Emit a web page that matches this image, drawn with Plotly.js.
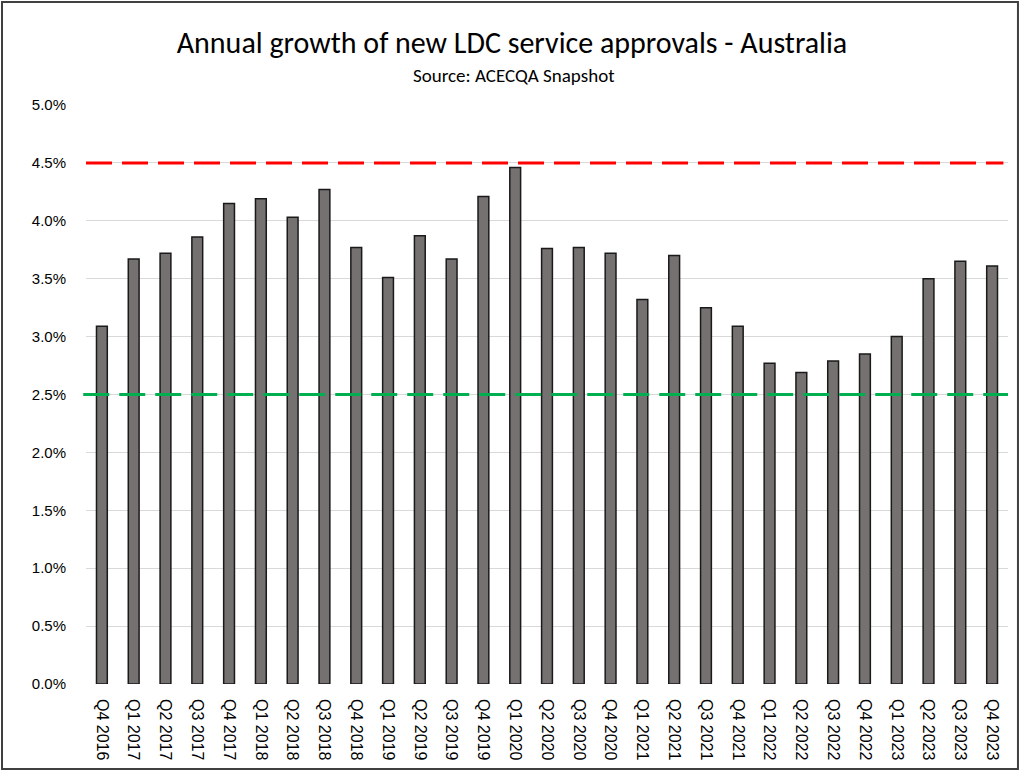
<!DOCTYPE html>
<html>
<head>
<meta charset="utf-8">
<script src="https://cdn.plot.ly/plotly-3.0.1.min.js"></script>
<style>
  html, body { margin: 0; padding: 0; background: #fff; }
  #chart { width: 1024px; height: 772px; }
</style>
</head>
<body>
<div id="chart"></div>
<script>
const quarters = [
  "Q4 2016","Q1 2017","Q2 2017","Q3 2017","Q4 2017","Q1 2018","Q2 2018","Q3 2018",
  "Q4 2018","Q1 2019","Q2 2019","Q3 2019","Q4 2019","Q1 2020","Q2 2020","Q3 2020",
  "Q4 2020","Q1 2021","Q2 2021","Q3 2021","Q4 2021","Q1 2022","Q2 2022","Q3 2022",
  "Q4 2022","Q1 2023","Q2 2023","Q3 2023","Q4 2023"
];
const growthPct = [
  3.09, 3.67, 3.72, 3.86, 4.15, 4.19, 4.03, 4.27,
  3.77, 3.51, 3.87, 3.67, 4.21, 4.46, 3.76, 3.77,
  3.72, 3.32, 3.70, 3.25, 3.09, 2.77, 2.69, 2.79,
  2.85, 3.00, 3.50, 3.65, 3.61
];
const upperLine = 4.5;
const lowerLine = 2.5;

const titleFont = "Carlito, Lato, 'Liberation Sans', sans-serif";
const tickFont = "'Liberation Sans', Arial, Helvetica, sans-serif";

const trace = {
  type: "bar",
  x: quarters,
  y: growthPct,
  marker: { color: "#767171", line: { color: "#1a1a1a", width: 1.5 } },
  hoverinfo: "x+y"
};

const layout = {
  width: 1024,
  height: 772,
  margin: { l: 86, r: 16, t: 105, b: 88 },
  paper_bgcolor: "#ffffff",
  plot_bgcolor: "#ffffff",
  showlegend: false,
  bargap: 0.66,
  font: { family: tickFont, color: "#000" },
  title: {
    text: "Annual growth of new LDC service approvals - Australia",
    font: { family: titleFont, size: 30, color: "#000" },
    x: 0.5, xanchor: "center", xref: "container",
    y: 1 - 42 / 772, yanchor: "middle", yref: "container"
  },
  annotations: [
    {
      text: "Source: ACECQA Snapshot",
      xref: "paper", yref: "paper",
      x: (514 - 86) / 922, y: (772 - 75 - 88) / 579,
      xanchor: "center", yanchor: "middle",
      showarrow: false,
      font: { family: titleFont, size: 19, color: "#000" }
    }
  ],
  xaxis: {
    type: "category",
    tickangle: 90,
    tickfont: { family: tickFont, size: 16, color: "#000" },
    ticklabelstandoff: 14,
    showgrid: false,
    showline: false,
    zeroline: false,
    ticks: "",
    fixedrange: true
  },
  yaxis: {
    range: [0, 5],
    dtick: 0.5,
    tick0: 0,
    tickformat: ".1f",
    ticksuffix: "%",
    tickfont: { family: tickFont, size: 15, color: "#000" },
    ticklabelstandoff: 19,
    showgrid: true,
    gridcolor: "#d9d9d9",
    gridwidth: 1,
    zeroline: false,
    showline: false,
    ticks: "",
    fixedrange: true
  },
  shapes: [
    {
      type: "line", xref: "paper", yref: "y",
      x0: 0, x1: 0.995, y0: upperLine, y1: upperLine,
      line: { color: "#ff0000", width: 3, dash: "26px,10px" }
    },
    {
      type: "line", xref: "paper", yref: "y",
      x0: -0.003, x1: 1, y0: lowerLine, y1: lowerLine,
      line: { color: "#00b050", width: 3, dash: "26px,10px" }
    },
    {
      type: "rect", xref: "paper", yref: "paper",
      x0: -0.0911, x1: 1.0108, y0: -0.1468, y1: 1.178,
      line: { color: "#404040", width: 2 },
      fillcolor: "rgba(0,0,0,0)", layer: "above"
    }
  ]
};

Plotly.newPlot("chart", [trace], layout, { displayModeBar: false, staticPlot: true });
</script>
</body>
</html>
